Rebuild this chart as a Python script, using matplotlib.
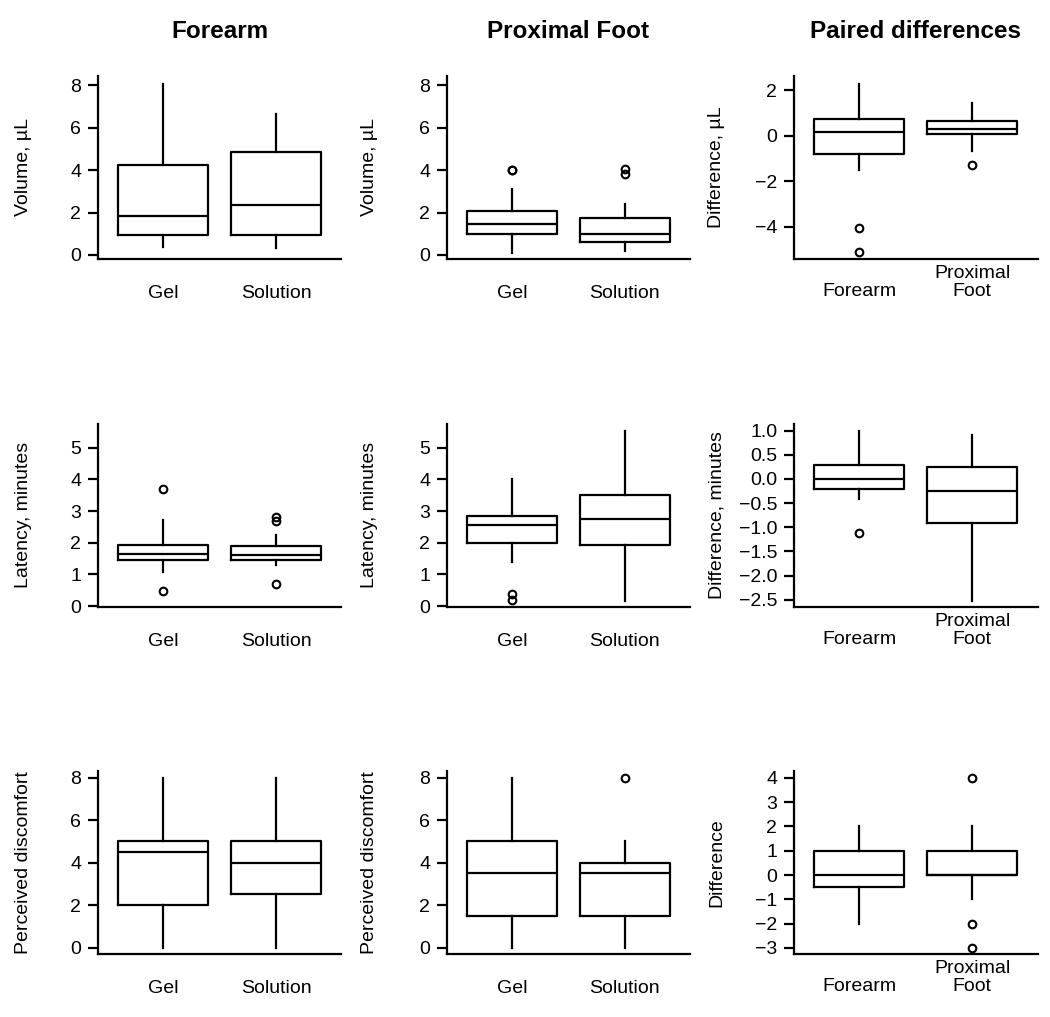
# Box plots of volume, latency and discomfort: forearm vs proximal foot

import matplotlib.pyplot as plt

plt.rcParams['font.family'] = ['Liberation Sans', 'DejaVu Sans']

# five-number summaries: [lower whisker, Q1, median, Q3, upper whisker]
treat_labels = ["Gel", "Solution"]
site_labels = ["Forearm", "Proximal\nFoot"]
col_titles = ["Forearm", "Proximal Foot", "Paired differences"]

vol_forearm = [[0.39, 0.94, 1.83, 4.25, 8.07], [0.31, 0.94, 2.36, 4.87, 6.64]]
vol_forearm_out = [[], []]
vol_foot = [[0.11, 0.97, 1.44, 2.08, 3.13], [0.20, 0.62, 0.97, 1.75, 2.39]]
vol_foot_out = [[3.98, 4.02], [3.80, 4.05]]
vol_diff = [[-1.50, -0.82, 0.18, 0.73, 2.29], [-0.66, 0.09, 0.31, 0.64, 1.43]]
vol_diff_out = [[-4.08, -5.13], [-1.28]]

lat_forearm = [[1.08, 1.45, 1.65, 1.94, 2.73], [1.29, 1.45, 1.60, 1.90, 2.23]]
lat_forearm_out = [[3.71, 0.49], [2.69, 2.82, 0.70]]
lat_foot = [[1.38, 2.00, 2.55, 2.86, 4.02], [0.17, 1.94, 2.75, 3.50, 5.53]]
lat_foot_out = [[0.18, 0.37], []]
lat_diff = [[-0.42, -0.21, 0.0, 0.30, 1.0], [-2.52, -0.91, -0.24, 0.24, 0.91]]
lat_diff_out = [[-1.11], []]

pain_forearm = [[0, 2, 4.5, 5, 8], [0, 2.5, 4, 5, 8]]
pain_forearm_out = [[], []]
pain_foot = [[0, 1.5, 3.5, 5, 8], [0, 1.5, 3.5, 4, 5]]
pain_foot_out = [[], [8]]
pain_diff = [[-2, -0.5, 0, 1, 2], [-1, 0, 0, 1, 2]]
pain_diff_out = [[], [4, -2, -3]]

vol_ticks = [0, 2, 4, 6, 8]
vol_diff_ticks = [-4, -2, 0, 2]
lat_ticks = [0, 1, 2, 3, 4, 5]
lat_diff_ticks = [-2.5, -2.0, -1.5, -1.0, -0.5, 0.0, 0.5, 1.0]
pain_ticks = [0, 2, 4, 6, 8]
pain_diff_ticks = [-3, -2, -1, 0, 1, 2, 3, 4]

panels = [
    [(vol_forearm, vol_forearm_out, treat_labels, "Volume, µL", (-0.19, 8.43), vol_ticks),
     (vol_foot, vol_foot_out, treat_labels, "Volume, µL", (-0.19, 8.43), vol_ticks),
     (vol_diff, vol_diff_out, site_labels, "Difference, µL", (-5.43, 2.63), vol_diff_ticks)],
    [(lat_forearm, lat_forearm_out, treat_labels, "Latency, minutes", (-0.02, 5.76), lat_ticks),
     (lat_foot, lat_foot_out, treat_labels, "Latency, minutes", (-0.02, 5.76), lat_ticks),
     (lat_diff, lat_diff_out, site_labels, "Difference, minutes", (-2.645, 1.145), lat_diff_ticks)],
    [(pain_forearm, pain_forearm_out, treat_labels, "Perceived discomfort", (-0.30, 8.31), pain_ticks),
     (pain_foot, pain_foot_out, treat_labels, "Perceived discomfort", (-0.30, 8.31), pain_ticks),
     (pain_diff, pain_diff_out, site_labels, "Difference", (-3.25, 4.28), pain_diff_ticks)],
]

W, H = 1050, 1017
fig = plt.figure(figsize=(W / 100, H / 100), dpi=100)

col_left = [98, 446.7, 794]
row_bottom = [259, 606.7, 954]
ax_w, ax_h = 243.5, 183

lw = 1.6
line = dict(color='black', linewidth=lw)

for r in range(3):
    for c in range(3):
        stats, outs, labels, ylabel, ylim, yticks = panels[r][c]
        ax = fig.add_axes([col_left[c] / W, 1 - row_bottom[r] / H, ax_w / W, ax_h / H])

        bstats = []
        for s, o, lab in zip(stats, outs, labels):
            if "\n" not in lab and c == 2:
                lab = "\n" + lab
            bstats.append(dict(whislo=s[0], q1=s[1], med=s[2], q3=s[3],
                               whishi=s[4], fliers=o, label=lab))
        ax.bxp(bstats, positions=[1, 2], widths=0.8, showcaps=False,
               boxprops=line, whiskerprops=line, medianprops=line,
               flierprops=dict(marker='o', markersize=5.5, markerfacecolor='none',
                               markeredgecolor='black', markeredgewidth=1.5))

        ax.set_xlim(0.42, 2.58)
        ax.set_ylim(*ylim)
        ax.set_yticks(yticks)

        ax.spines['right'].set_visible(False)
        ax.spines['top'].set_visible(False)
        ax.spines['left'].set_linewidth(lw)
        ax.spines['bottom'].set_linewidth(lw)

        ax.tick_params(axis='y', direction='out', length=7, width=lw, pad=5, labelsize=14)
        ax.tick_params(axis='x', length=0, pad=19 if c < 2 else 4.5, labelsize=14)
        for t in ax.get_xticklabels():
            t.set_linespacing(1.05)

        ax.set_ylabel(ylabel, fontsize=14)
        ax.yaxis.set_label_coords(-0.305 if c == 0 else -0.318, 0.5)
        ax.yaxis.label.set_verticalalignment('center')

        if r == 0:
            ax.set_title(col_titles[c], fontsize=17.5, fontweight='bold', pad=27)

fig.savefig("out.png", dpi=100)
